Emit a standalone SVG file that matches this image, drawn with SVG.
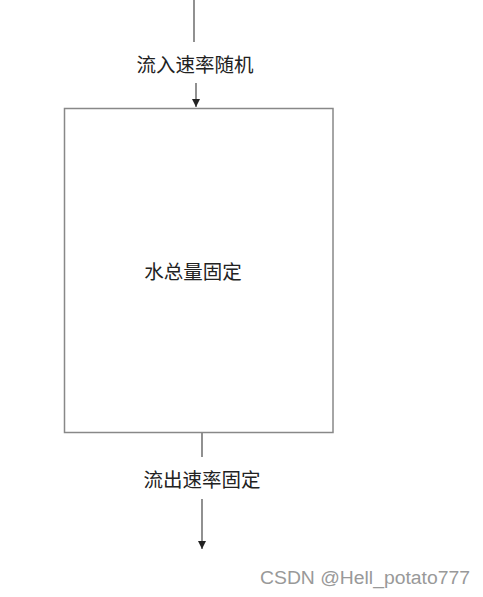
<svg xmlns="http://www.w3.org/2000/svg" width="483" height="597" viewBox="0 0 483 597">
<style>
.lbl{font-family:"Noto Sans CJK SC","Liberation Sans",sans-serif;font-size:19.5px;fill:#222;text-anchor:middle}
.ln{stroke:#555;stroke-width:1.3;fill:none}
.box{fill:#fff;stroke:#888;stroke-width:1.5}
</style>
<defs>
<marker id="ah" markerWidth="8" markerHeight="10" refX="8" refY="4" orient="auto" markerUnits="userSpaceOnUse">
<path d="M0,0 L8,4 L0,8 Z" fill="#222"/>
</marker>
</defs>
<rect width="483" height="597" fill="#fff"/>
<g id="connectors">
<line class="ln" x1="194" y1="0" x2="194" y2="42"/>
<line class="ln" x1="196" y1="83" x2="196" y2="107" marker-end="url(#ah)"/>
<line class="ln" x1="202" y1="433" x2="202" y2="457"/>
<line class="ln" x1="202" y1="499" x2="202" y2="549" marker-end="url(#ah)"/>
</g>
<g id="inflow"><text class="lbl" x="195" y="72">流入速率随机</text></g>
<g id="tank">
<rect class="box" x="64.5" y="108.5" width="268.5" height="324"/>
<text class="lbl" x="193" y="279">水总量固定</text>
</g>
<g id="outflow"><text class="lbl" x="202" y="487">流出速率固定</text></g>
<text x="260" y="584" font-family="Liberation Sans,sans-serif" font-size="18" fill="#999" textLength="210" lengthAdjust="spacingAndGlyphs">CSDN @Hell_potato777</text>
</svg>
